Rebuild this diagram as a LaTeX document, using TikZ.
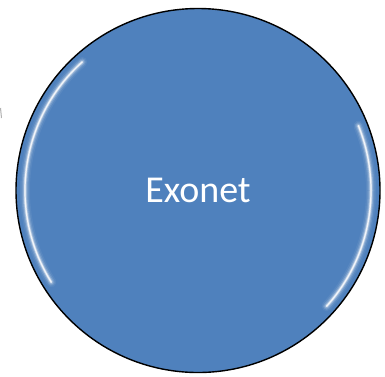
\documentclass[tikz,border=0pt]{standalone}
\usepackage{fontspec}
\setmainfont{Carlito}
\definecolor{officeblue}{HTML}{4F81BD}
\tikzset{
  bubble/.style={circle, draw=black, line width=1.4pt, fill=officeblue, minimum size=364pt, inner sep=0pt, text=white, font=\fontsize{38pt}{42pt}\selectfont},
  gloss/.style={draw=white, line cap=round}
}
\begin{document}
\begin{tikzpicture}[x=1pt,y=-1pt]
\useasboundingbox[fill=white] (0,0) rectangle (385,376);
\node[bubble] (exonet) at (198,190.5) {Exonet};
% glossy rim highlights (angles negated because y points down)
\foreach \w/\o in {10/0.06,7/0.12,4.5/0.22,2.5/0.45,1.2/0.8}{
  \draw[gloss, line width=\w pt, opacity=\o] (exonet.center) ++(-132:173) arc[start angle=-132, end angle=-212, radius=173];
  \draw[gloss, line width=\w pt, opacity=\o] (exonet.center) ++(-22:173) arc[start angle=-22, end angle=42, radius=173];
}
\draw[gray!60, line width=1pt] (0.5,108) -- (1.5,118);
\end{tikzpicture}
\end{document}
